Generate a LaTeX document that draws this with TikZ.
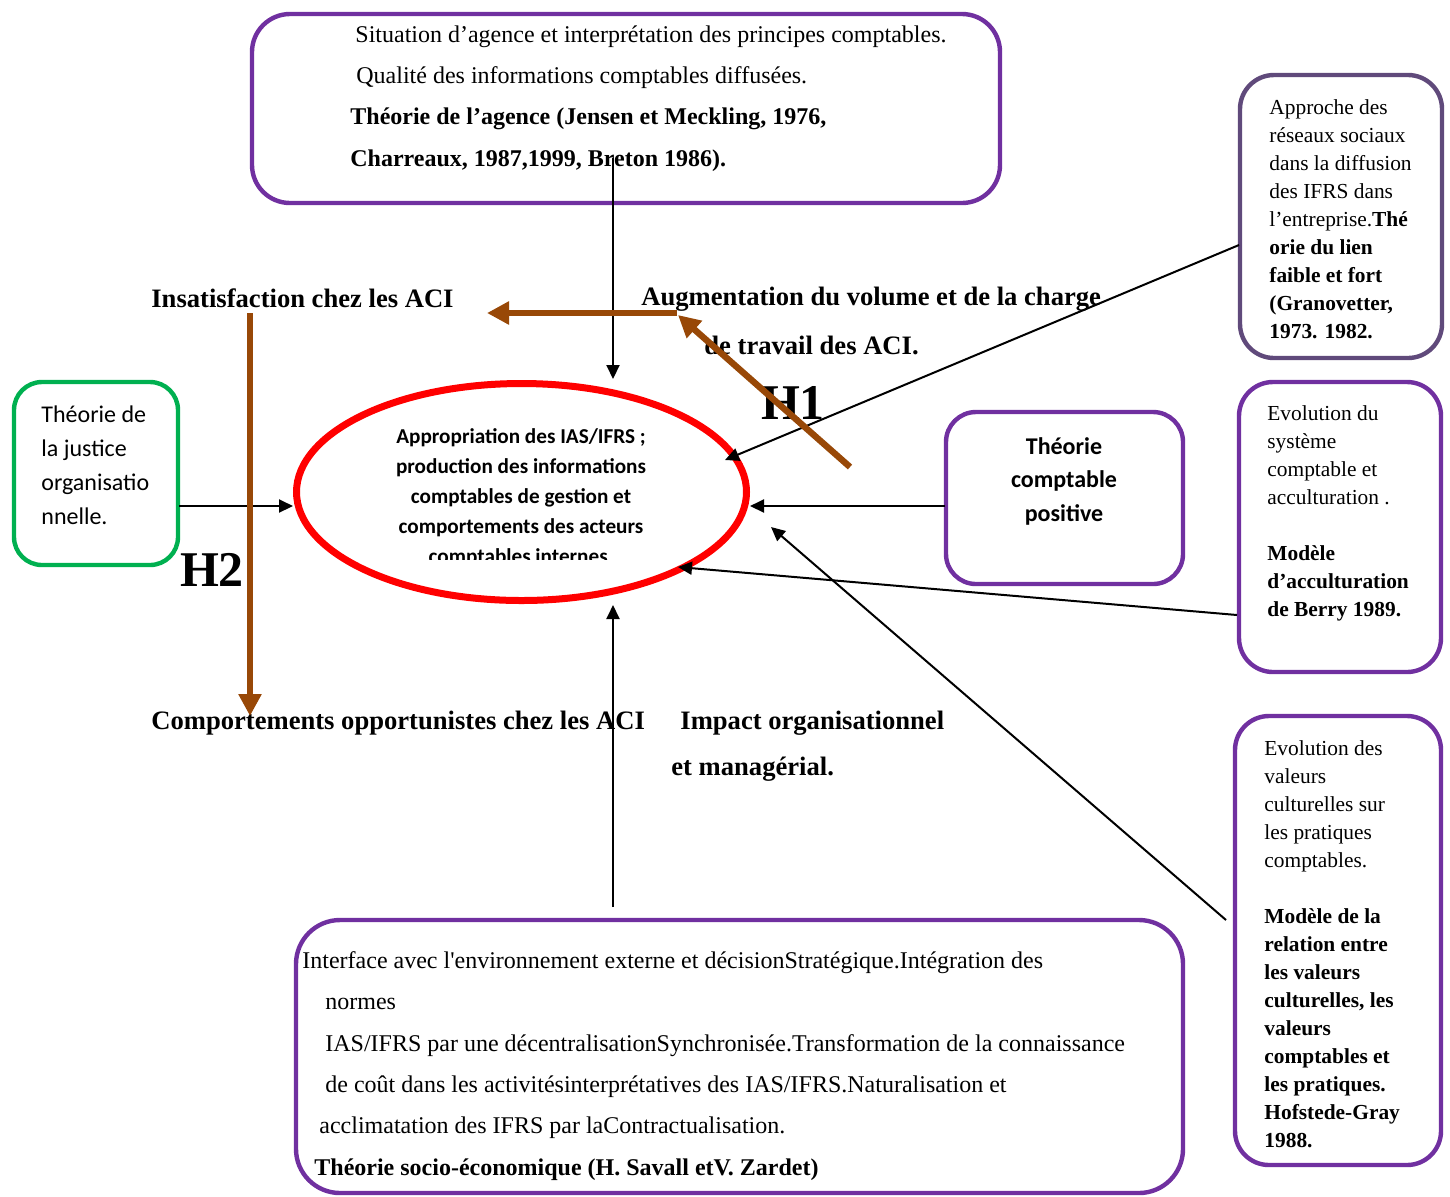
\documentclass[tikz,border=0pt]{standalone}
\usepackage{fontspec}
\setmainfont{Liberation Serif}[Ligatures=TeXOff]
\newfontfamily\calib{Carlito}
\usetikzlibrary{arrows.meta,shapes.geometric}
\definecolor{cadreviolet}{HTML}{7030A0}
\definecolor{cadregris}{HTML}{604A7B}
\definecolor{cadrevert}{HTML}{00B050}
\definecolor{hypbrun}{HTML}{984807}

\tikzset{
  cadre/.style={draw=cadreviolet, line width=2.2pt, rounded corners=#1, inner sep=0pt},
  cadre/.default=16pt,
  txt/.style={inner sep=0pt, anchor=north west, align=left},
  lbl/.style={inner sep=0pt, anchor=west, font=\fontsize{13.3}{16}\selectfont\bfseries},
  hyp/.style={inner sep=0pt, font=\fontsize{25}{28}\selectfont\bfseries},
  fl/.style={line width=1pt, -{Triangle[length=7pt,width=6.5pt]}},
  flbrun/.style={draw=hypbrun, line width=3.2pt, -{Triangle[length=11pt,width=11pt]}}
}

\begin{document}
\begin{tikzpicture}[x=0.5pt,y=-0.5pt]
  \useasboundingbox (0,0) rectangle (1450,1196);

  % cadres
  \node (agence) [cadre=19pt, minimum width=374pt, minimum height=94.5pt] at (626,108.5) {};
  \node (justice) [cadre=14pt, draw=cadrevert, minimum width=82pt, minimum height=91.5pt] at (96,473.5) {};
  \node (tcp) [cadre=15pt, minimum width=118.5pt, minimum height=86pt] at (1064.5,498) {};
  \node (reseaux) [cadre=17pt, draw=cadregris, minimum width=101pt, minimum height=141.5pt] at (1341,216.5) {};
  \node (berry) [cadre=17pt, minimum width=101pt, minimum height=145pt] at (1340,527) {};
  \node (hofstede) [cadre=17pt, minimum width=103pt, minimum height=224.5pt] at (1338,940.5) {};
  \node (savall) [cadre=22pt, minimum width=443.5pt, minimum height=136.5pt] at (739.5,1056.5) {};
  \node (core) [ellipse, draw=red, line width=3.5pt, inner sep=0pt, minimum width=225pt, minimum height=108.5pt] at (521.5,492) {};

  % textes des cadres
  \node (agencetxt) [txt, font=\fontsize{12}{20.7}\selectfont] at (350,25)
    {\hspace{2.5pt}Situation d’agence et interprétation des principes comptables.\\
     \hspace{3pt}Qualité des informations comptables diffusées.\\
     \textbf{Théorie de l’agence (Jensen et Meckling, 1976,}\\
     \textbf{Charreaux, 1987,1999, Breton 1986).}};
  \node (justicetxt) [txt, font=\calib\fontsize{12}{17}\selectfont] at (41,405)
    {Théorie de\\la justice\\organisatio\\nnelle.};
  \node (tcptxt) [inner sep=0pt, anchor=north, align=center, font=\calib\bfseries\fontsize{12}{16.75}\selectfont] at (1064,437)
    {Théorie\\comptable\\positive};
  \node (reseauxtxt) [txt, font=\fontsize{10.7}{14}\selectfont] at (1269,99)
    {Approche des\\réseaux sociaux\\dans la diffusion\\des IFRS dans\\l’entreprise.\textbf{Thé}\\
     \textbf{orie du lien}\\\textbf{faible et fort}\\\textbf{(Granovetter,}\\\textbf{1973. 1982.}};
  \node (berrytxt) [txt, font=\fontsize{10.7}{14}\selectfont] at (1267,405)
    {Evolution du\\système\\comptable et\\acculturation .\\[14pt]
     \textbf{Modèle}\\\textbf{d’acculturation}\\\textbf{de Berry 1989.}};
  \node (hofstedetxt) [txt, font=\fontsize{10.7}{14}\selectfont] at (1264,740)
    {Evolution des\\valeurs\\culturelles sur\\les pratiques\\comptables.\\[14pt]
     \textbf{Modèle de la}\\\textbf{relation entre}\\\textbf{les valeurs}\\\textbf{culturelles, les}\\
     \textbf{valeurs}\\\textbf{comptables et}\\\textbf{les pratiques.}\\\textbf{Hofstede-Gray}\\\textbf{1988.}};
  \node (savalltxt) [txt, font=\fontsize{12}{20.7}\selectfont] at (302,951)
    {Interface avec l'environnement externe et décisionStratégique.Intégration des\\
     \hspace{11.5pt}normes\\
     \hspace{11.5pt}IAS/IFRS par une décentralisationSynchronisée.Transformation de la connaissance\\
     \hspace{11.5pt}de coût dans les activitésinterprétatives des IAS/IFRS.Naturalisation et\\
     \hspace{8.5pt}acclimatation des IFRS par laContractualisation.\\
     \hspace{6pt}\textbf{Théorie socio-économique (H. Savall etV. Zardet)}};

  % texte de l'ellipse, coupe en bas
  \begin{scope}
    \clip (300,400) rectangle (740,559);
    \node (coretxt) [inner sep=0pt, anchor=north, align=center, font=\calib\bfseries\fontsize{10.6}{15}\selectfont] at (521,428)
      {Appropriation des IAS/IFRS ;\\production des informations\\comptables de gestion et\\comportements des acteurs\\comptables internes.};
  \end{scope}

  % etiquettes
  \node (insat) [lbl] at (151,298) {Insatisfaction chez les ACI};
  \node (augm) [lbl] at (641,299) {Augmentation du volume et de la charge};
  \node (augm2) [lbl] at (704,345) {de travail des ACI.};
  \node (oppo) [lbl] at (151,723) {Comportements opportunistes chez les ACI};
  \node (impact) [lbl] at (680,723) {Impact organisationnel};
  \node (impact2) [lbl] at (671,769) {et managérial.};
  \node (hA) [hyp] at (793,403) {H1};
  \node (hB) [hyp] at (212,570) {H2};

  % points des fleches
  \coordinate (agOut) at (613,158);
  \coordinate (coreN) at (613,379);
  \coordinate (socOut) at (613,907);
  \coordinate (coreS) at (613,605);
  \coordinate (jusOut) at (179,506);
  \coordinate (coreW) at (293,506);
  \coordinate (tcpOut) at (945,506);
  \coordinate (coreE) at (750,506);
  \coordinate (resOut) at (1239,245);
  \coordinate (coreNE) at (725,460);
  \coordinate (berOut) at (1237,615);
  \coordinate (coreSE) at (678,567);
  \coordinate (hofOut) at (1226,920);
  \coordinate (coreSEb) at (771,527);

  \draw[fl] (agOut) -- (coreN);
  \draw[fl] (socOut) -- (coreS);
  \draw[fl] (jusOut) -- (coreW);
  \draw[fl] (tcpOut) -- (coreE);
  \draw[fl] (resOut) -- (coreNE);
  \draw[fl] (berOut) -- (coreSE);
  \draw[fl] (hofOut) -- (coreSEb);

  % hypotheses
  \coordinate (h1a) at (850,467);
  \coordinate (h1b) at (678,315);
  \coordinate (insA) at (677,313);
  \coordinate (insB) at (487,313);
  \coordinate (h2a) at (250,313);
  \coordinate (h2b) at (250,716);
  \draw[flbrun] (h1a) -- (h1b);
  \draw[flbrun] (insA) -- (insB);
  \draw[flbrun] (h2a) -- (h2b);
\end{tikzpicture}
\end{document}
